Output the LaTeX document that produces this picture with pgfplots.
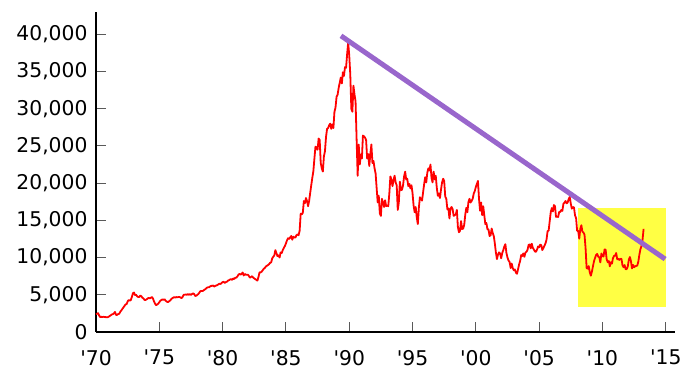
\documentclass[border=0pt]{standalone}
\usepackage{fontspec}
\setmainfont{DejaVu Sans}
\usepackage{pgfplots}
\pgfplotsset{compat=1.18}
\definecolor{nred}{RGB}{255,0,0}
\definecolor{npurple}{RGB}{153,102,204}
\definecolor{nyellow}{RGB}{255,255,68}
\begin{document}
\begin{tikzpicture}
\begin{axis}[
  scale only axis, width=579pt, height=320pt,
  xmin=1970, xmax=2015.73, ymin=0, ymax=43000,
  axis x line*=bottom, axis y line*=left,
  axis line style={-, line width=2pt, black},
  every outer x axis line/.append style={-},
  every outer y axis line/.append style={-},
  tick align=inside,
  major tick length=10pt,
  tick style={gray!70!black, line width=1pt},
  xtick={1970,1975,...,2015},
  xticklabels={\textquotesingle70,\textquotesingle75,\textquotesingle80,\textquotesingle85,\textquotesingle90,\textquotesingle95,\textquotesingle00,\textquotesingle05,\textquotesingle10,\textquotesingle15},
  ytick={0,5000,...,40000},
  scaled y ticks=false,
  /pgf/number format/.cd, 1000 sep={,}, assume math mode=true, /pgfplots/.cd,
  tick label style={font=\fontsize{20.3}{24}\selectfont},
  xticklabel style={yshift=-14.5pt},
  yticklabel style={xshift=-5pt},
  clip=false,
]
\addplot[fill=nyellow, draw=none] coordinates {(2008.07,3400)(2015.0,3400)(2015.0,16700)(2008.07,16700)} -- cycle;
\addplot[nred, line width=1.8pt, line join=round] coordinates {
(1970.000,2400)(1970.083,2450)(1970.167,2530)(1970.250,2200)(1970.333,2000)(1970.417,2050)(1970.500,2000)(1970.583,2050)(1970.667,2020)(1970.750,2000)(1970.833,1990)(1970.917,1987)
(1971.000,2050)(1971.083,2150)(1971.167,2250)(1971.250,2350)(1971.333,2400)(1971.417,2500)(1971.500,2700)(1971.583,2300)(1971.667,2300)(1971.750,2400)(1971.833,2450)(1971.917,2714)
(1972.000,2900)(1972.083,3100)(1972.167,3300)(1972.250,3500)(1972.333,3700)(1972.417,3750)(1972.500,4100)(1972.583,4300)(1972.667,4200)(1972.750,4300)(1972.833,4700)(1972.917,5208)
(1973.000,5300)(1973.083,4950)(1973.167,5000)(1973.250,4800)(1973.333,4700)(1973.417,4700)(1973.500,4900)(1973.583,4800)(1973.667,4600)(1973.750,4500)(1973.833,4300)(1973.917,4306)
(1974.000,4400)(1974.083,4500)(1974.167,4600)(1974.250,4500)(1974.333,4600)(1974.417,4700)(1974.500,4500)(1974.583,4100)(1974.667,3800)(1974.750,3600)(1974.833,3700)(1974.917,3817)
(1975.000,4000)(1975.083,4200)(1975.167,4300)(1975.250,4400)(1975.333,4300)(1975.417,4400)(1975.500,4200)(1975.583,4100)(1975.667,4000)(1975.750,4100)(1975.833,4200)(1975.917,4359)
(1976.000,4500)(1976.083,4600)(1976.167,4700)(1976.250,4600)(1976.333,4700)(1976.417,4650)(1976.500,4700)(1976.583,4700)(1976.667,4650)(1976.750,4550)(1976.833,4700)(1976.917,4990)
(1977.000,5000)(1977.083,5050)(1977.167,5000)(1977.250,5100)(1977.333,5000)(1977.417,5100)(1977.500,5000)(1977.583,5100)(1977.667,5200)(1977.750,5100)(1977.833,4850)(1977.917,4866)
(1978.000,5000)(1978.083,5100)(1978.167,5300)(1978.250,5500)(1978.333,5500)(1978.417,5500)(1978.500,5600)(1978.583,5700)(1978.667,5800)(1978.750,5950)(1978.833,6000)(1978.917,6002)
(1979.000,6100)(1979.083,6200)(1979.167,6200)(1979.250,6250)(1979.333,6100)(1979.417,6200)(1979.500,6250)(1979.583,6300)(1979.667,6400)(1979.750,6500)(1979.833,6450)(1979.917,6569)
(1980.000,6700)(1980.083,6750)(1980.167,6600)(1980.250,6700)(1980.333,6750)(1980.417,6900)(1980.500,6950)(1980.583,7050)(1980.667,7100)(1980.750,7000)(1980.833,7200)(1980.917,7116)
(1981.000,7300)(1981.083,7300)(1981.167,7450)(1981.250,7700)(1981.333,7800)(1981.417,7700)(1981.500,7800)(1981.583,8000)(1981.667,7600)(1981.750,7800)(1981.833,7700)(1981.917,7681)
(1982.000,7700)(1982.083,7500)(1982.167,7300)(1982.250,7400)(1982.333,7500)(1982.417,7300)(1982.500,7200)(1982.583,7100)(1982.667,7000)(1982.750,6900)(1982.833,7400)(1982.917,8016)
(1983.000,8000)(1983.083,8100)(1983.167,8300)(1983.250,8500)(1983.333,8600)(1983.417,8800)(1983.500,8900)(1983.583,9000)(1983.667,9100)(1983.750,9300)(1983.833,9350)(1983.917,9893)
(1984.000,10100)(1984.083,10300)(1984.167,11000)(1984.250,10600)(1984.333,10200)(1984.417,10300)(1984.500,10000)(1984.583,10700)(1984.667,10600)(1984.750,11000)(1984.833,11300)(1984.917,11542)
(1985.000,11900)(1985.083,12300)(1985.167,12600)(1985.250,12500)(1985.333,12700)(1985.417,12900)(1985.500,12400)(1985.583,12800)(1985.667,12700)(1985.750,12700)(1985.833,13000)(1985.917,13113)
(1986.000,13000)(1986.083,13600)(1986.167,15900)(1986.250,15800)(1986.333,16000)(1986.417,17600)(1986.500,17300)(1986.583,18000)(1986.667,17600)(1986.750,16900)(1986.833,17600)(1986.917,18701)
(1987.000,19700)(1987.083,20700)(1987.167,21600)(1987.250,23300)(1987.333,24900)(1987.417,24800)(1987.500,24500)(1987.583,26000)(1987.667,25800)(1987.750,22700)(1987.833,22000)(1987.917,21564)
(1988.000,23600)(1988.083,24300)(1988.167,26200)(1988.250,27300)(1988.333,27400)(1988.417,27800)(1988.500,28000)(1988.583,27300)(1988.667,27900)(1988.750,27400)(1988.833,29600)(1988.917,30159)
(1989.000,31600)(1989.083,31900)(1989.167,32800)(1989.250,33500)(1989.333,34200)(1989.417,33400)(1989.500,34900)(1989.583,34400)(1989.667,35600)(1989.750,35500)(1989.833,37300)(1989.917,38916)
(1990.000,37200)(1990.083,34600)(1990.167,29980)(1990.250,29600)(1990.333,33100)(1990.417,31900)(1990.500,31000)(1990.583,25900)(1990.667,20984)(1990.750,25200)(1990.833,22500)(1990.917,23849)
(1991.000,23300)(1991.083,26400)(1991.167,26300)(1991.250,26100)(1991.333,25800)(1991.417,23300)(1991.500,23900)(1991.583,22300)(1991.667,23900)(1991.750,25200)(1991.833,22700)(1991.917,22984)
(1992.000,22000)(1992.083,21300)(1992.167,19300)(1992.250,17400)(1992.333,18300)(1992.417,15950)(1992.500,15600)(1992.583,17900)(1992.667,17400)(1992.750,16800)(1992.833,17700)(1992.917,16925)
(1993.000,17000)(1993.083,16900)(1993.167,18600)(1993.250,20900)(1993.333,20500)(1993.417,19600)(1993.500,20400)(1993.583,21000)(1993.667,20100)(1993.750,19700)(1993.833,16400)(1993.917,17417)
(1994.000,20200)(1994.083,19100)(1994.167,19100)(1994.250,19700)(1994.333,20900)(1994.417,21550)(1994.500,20500)(1994.583,20600)(1994.667,19600)(1994.750,19900)(1994.833,19300)(1994.917,19723)
(1995.000,18650)(1995.083,17000)(1995.167,16100)(1995.250,16800)(1995.333,15400)(1995.417,14500)(1995.500,16700)(1995.583,18100)(1995.667,17900)(1995.750,17650)(1995.833,18750)(1995.917,19868)
(1996.000,20800)(1996.083,20100)(1996.167,21400)(1996.250,22000)(1996.333,21700)(1996.417,22500)(1996.500,20700)(1996.583,20100)(1996.667,21550)(1996.750,20500)(1996.833,21000)(1996.917,19361)
(1997.000,18300)(1997.083,18600)(1997.167,18000)(1997.250,19150)(1997.333,20100)(1997.417,20600)(1997.500,20300)(1997.583,18200)(1997.667,17900)(1997.750,16500)(1997.833,16600)(1997.917,15259)
(1998.000,16600)(1998.083,16800)(1998.167,16500)(1998.250,15600)(1998.333,15700)(1998.417,15800)(1998.500,16400)(1998.583,14100)(1998.667,13400)(1998.750,13600)(1998.833,14900)(1998.917,13842)
(1999.000,13900)(1999.083,14400)(1999.167,15800)(1999.250,16700)(1999.333,16100)(1999.417,17500)(1999.500,17900)(1999.583,17400)(1999.667,17600)(1999.750,17900)(1999.833,18600)(1999.917,18934)
(2000.000,19500)(2000.083,19900)(2000.167,20300)(2000.250,17900)(2000.333,16300)(2000.417,17400)(2000.500,15700)(2000.583,16900)(2000.667,15700)(2000.750,14500)(2000.833,14650)(2000.917,13785)
(2001.000,13800)(2001.083,12900)(2001.167,13000)(2001.250,13900)(2001.333,13300)(2001.417,12900)(2001.500,11900)(2001.583,10700)(2001.667,9800)(2001.750,10400)(2001.833,10700)(2001.917,10542)
(2002.000,9900)(2002.083,10600)(2002.167,11000)(2002.250,11500)(2002.333,11800)(2002.417,10600)(2002.500,10000)(2002.583,9600)(2002.667,9400)(2002.750,8600)(2002.833,9200)(2002.917,8578)
(2003.000,8300)(2003.083,8400)(2003.167,7970)(2003.250,7830)(2003.333,8420)(2003.417,9080)(2003.500,9560)(2003.583,10340)(2003.667,10220)(2003.750,10560)(2003.833,10100)(2003.917,10676)
(2004.000,10780)(2004.083,11040)(2004.167,11700)(2004.250,11760)(2004.333,11240)(2004.417,11860)(2004.500,11320)(2004.583,11080)(2004.667,10820)(2004.750,10770)(2004.833,11080)(2004.917,11488)
(2005.000,11390)(2005.083,11740)(2005.167,11670)(2005.250,11010)(2005.333,11280)(2005.417,11580)(2005.500,11900)(2005.583,12400)(2005.667,13570)(2005.750,13600)(2005.833,14870)(2005.917,16111)
(2006.000,16650)(2006.083,16200)(2006.167,17060)(2006.250,16900)(2006.333,15470)(2006.417,15500)(2006.500,15460)(2006.583,16140)(2006.667,16130)(2006.750,16400)(2006.833,16270)(2006.917,17225)
(2007.000,17380)(2007.083,17600)(2007.167,17290)(2007.250,17400)(2007.333,17870)(2007.417,18140)(2007.500,17250)(2007.583,16570)(2007.667,16790)(2007.750,16740)(2007.833,15680)(2007.917,15307)
(2008.000,13590)(2008.083,13600)(2008.167,12530)(2008.250,13850)(2008.333,14340)(2008.417,13480)(2008.500,13380)(2008.583,13070)(2008.667,11260)(2008.750,8580)(2008.833,8510)(2008.917,8860)
(2009.000,7990)(2009.083,7570)(2009.167,8110)(2009.250,8830)(2009.333,9520)(2009.417,9960)(2009.500,10360)(2009.583,10490)(2009.667,10130)(2009.750,10030)(2009.833,9350)(2009.917,10546)
(2010.000,10200)(2010.083,10130)(2010.167,11090)(2010.250,11060)(2010.333,9770)(2010.417,9380)(2010.500,9540)(2010.583,8820)(2010.667,9370)(2010.750,9200)(2010.833,9940)(2010.917,10230)
(2011.000,10240)(2011.083,10620)(2011.167,9760)(2011.250,9850)(2011.333,9690)(2011.417,9820)(2011.500,9830)(2011.583,8960)(2011.667,8700)(2011.750,8990)(2011.833,8430)(2011.917,8455)
(2012.000,8800)(2012.083,9720)(2012.167,10080)(2012.250,9520)(2012.333,8540)(2012.417,9010)(2012.500,8700)(2012.583,8840)(2012.667,8870)(2012.750,8930)(2012.833,9450)(2012.917,10395)
(2013.000,11140)(2013.083,11560)(2013.167,12400)(2013.250,13860)
};
\addplot[npurple, line width=5pt] coordinates {(1989.35,39800)(2014.95,9800)};
\end{axis}
\path[use as bounding box] ([xshift=-96pt,yshift=-50pt]current axis.south west) rectangle ([xshift=24pt,yshift=12pt]current axis.north east);
\end{tikzpicture}
\end{document}
